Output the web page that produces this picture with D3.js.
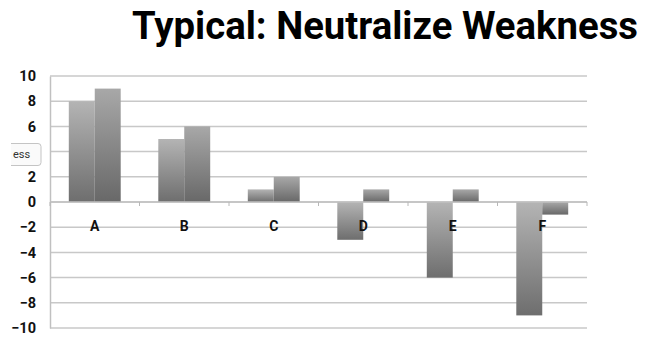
<!DOCTYPE html>
<html><head><meta charset="utf-8">
<script src="https://cdn.jsdelivr.net/npm/d3@7"></script>
<style>body{margin:0;background:#fff;}svg{display:block;}</style>
</head><body>
<svg id="c" width="648" height="340"></svg>
<script>
const categories = ["A","B","C","D","E","F"];
const series1 = [8, 5, 1, -3, -6, -9];
const series2 = [9, 6, 2, 1, 1, -1];
const yTicks = [-10,-8,-6,-4,-2,0,2,4,6,8,10];
const title = "Typical: Neutralize Weakness";
const legendText = "ess";

const svg = d3.select("#c");
const font = "Roboto, 'DejaVu Sans', sans-serif";
const L = 50, R = 587, T = 76, B = 328;

const x = d3.scaleBand().domain(categories).range([L, R]).paddingInner(0.42).paddingOuter(0.21);
const xs = d3.scaleBand().domain([0,1]).range([0, x.bandwidth()]);
const y = d3.scaleLinear().domain([-10, 10]).range([B, T]);

const defs = svg.append("defs");
const g1 = defs.append("linearGradient").attr("id","g1").attr("x1",0).attr("y1",0).attr("x2",0).attr("y2",1);
g1.append("stop").attr("offset","0%").attr("stop-color","#b4b4b4");
g1.append("stop").attr("offset","100%").attr("stop-color","#6e6e6e");
const g2 = defs.append("linearGradient").attr("id","g2").attr("x1",0).attr("y1",0).attr("x2",0).attr("y2",1);
g2.append("stop").attr("offset","0%").attr("stop-color","#a8a8a8");
g2.append("stop").attr("offset","100%").attr("stop-color","#686868");

// gridlines
svg.append("g").selectAll("line").data(yTicks).join("line")
  .attr("x1", L).attr("x2", R).attr("y1", d=>y(d)).attr("y2", d=>y(d))
  .attr("stroke", "#c8c8c8").attr("stroke-width", 1.5);

// y axis
const yAxis = svg.append("g").attr("transform", `translate(${L},0)`)
  .call(d3.axisLeft(y).tickValues(yTicks).tickSize(0).tickPadding(14));
yAxis.select(".domain").attr("stroke", "#c0c0c0").attr("stroke-width", 1.5);
yAxis.selectAll("text").attr("font-family", font).attr("font-weight", "bold")
  .attr("font-size", 14.5).attr("fill", "#111");

// bars
const data = categories.map((c,i)=>({c, v:[series1[i], series2[i]]}));
const grp = svg.append("g").selectAll("g").data(data).join("g")
  .attr("transform", d=>`translate(${x(d.c)},0)`);
grp.selectAll("rect").data(d=>d.v.map((v,k)=>({v,k}))).join("rect")
  .attr("x", d=>xs(d.k)).attr("width", xs.bandwidth())
  .attr("y", d=>y(Math.max(0,d.v))).attr("height", d=>Math.abs(y(d.v)-y(0)))
  .attr("fill", d=> d.k===0 ? "url(#g1)" : "url(#g2)");

// zero axis with ticks at band boundaries
svg.append("line").attr("x1", L).attr("x2", R).attr("y1", y(0)).attr("y2", y(0))
  .attr("stroke", "#c0c0c0").attr("stroke-width", 1.5);
const step = (R - L) / categories.length;
svg.append("g").selectAll("line").data(d3.range(categories.length + 1)).join("line")
  .attr("x1", i=>L + i*step).attr("x2", i=>L + i*step)
  .attr("y1", y(0)).attr("y2", y(0)+4)
  .attr("stroke", "#b8b8b8").attr("stroke-width", 1);

// category labels
svg.append("g").selectAll("text").data(categories).join("text")
  .attr("x", d=>x(d)+x.bandwidth()/2).attr("y", y(0)+29)
  .attr("text-anchor","middle").attr("font-family", font).attr("font-weight","bold")
  .attr("font-size", 14).attr("fill","#111").text(d=>d);

// title
svg.append("text").attr("x", 132).attr("y", 39)
  .attr("font-family", font).attr("font-weight", 700).attr("font-size", 38)
  .attr("textLength", 506).attr("lengthAdjust", "spacingAndGlyphs")
  .attr("fill", "#000").text(title);

// cropped legend
defs.append("clipPath").attr("id","lc").append("rect").attr("x",11).attr("y",130).attr("width",40).attr("height",50);
const lg = svg.append("g").attr("clip-path","url(#lc)");
lg.append("rect").attr("x", -10).attr("y", 143.5).attr("width", 51).attr("height", 22).attr("rx", 3)
  .attr("fill", "#fafafa").attr("stroke", "#c4c4c4").attr("stroke-width", 1);
lg.append("text").attr("x", 13).attr("y", 158).attr("font-family", font).attr("font-size", 11)
  .attr("fill", "#333").text(legendText);
</script>
</body></html>
